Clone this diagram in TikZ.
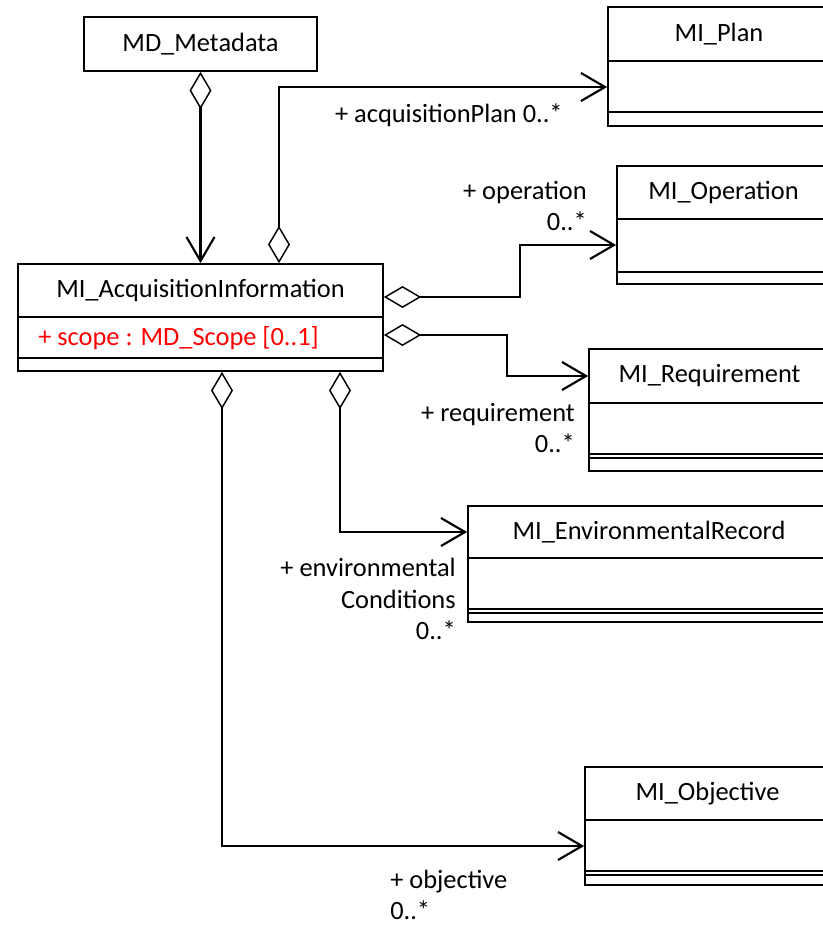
\documentclass[tikz,border=0pt]{standalone}
\usepackage{fontspec}
\setmainfont{Carlito}
\usetikzlibrary{arrows.meta, positioning, fit}
\newcommand{\umlfont}{\fontsize{19.8pt}{23.5pt}\selectfont}
\tikzset{
  classbox/.style = {rectangle, draw=black, line width=1.3pt, inner sep=0pt},
  classname/.style = {font=\umlfont, text=black, inner sep=0pt},
  divider/.style = {draw=black, line width=1.3pt},
  attrib/.style = {font=\umlfont, text=red, inner sep=0pt, anchor=west},
  rolelabel/.style = {font=\umlfont, inner sep=0pt, align=right, anchor=east},
  aggr/.style = {draw=black, line width=1.6pt,
    arrows={Diamond[length=28pt, width=16.5pt, fill=white, line width=1.1pt]-Straight Barb[length=18pt, width=21pt]}}
}

\begin{document}
\begin{tikzpicture}[x=0.75pt, y=-0.75pt]
  \useasboundingbox (0,0) rectangle (823,926);
  \clip (0,0) rectangle (823,926);

  % Classes
  \node (meta) [classbox, fit={(84,17) (317,71)}] {};
  \node (metatitle) [classname] at (meta.center) {MD\_Metadata};

  \node (acq) [classbox, fit={(18,264) (383,371)}] {};
  \node (acqtitle) [classname] at (acq.north |- 0,290.5) {MI\_AcquisitionInformation};
  \node (acqattr) [attrib] at (38,338) {+ scope : MD\_Scope [0..1]};

  \node (plan) [classbox, fit={(608,7) (830,126)}] {};
  \node (plantitle) [classname] at (plan.north |- 0,34) {MI\_Plan};

  \node (op) [classbox, fit={(617,166) (830,284)}] {};
  \node (optitle) [classname] at (op.north |- 0,192.5) {MI\_Operation};

  \node (req) [classbox, fit={(589,349) (830,471)}] {};
  \node (reqtitle) [classname] at (req.north |- 0,376) {MI\_Requirement};

  \node (env) [classbox, fit={(468,506) (830,622)}] {};
  \node (envtitle) [classname] at (env.north |- 0,532) {MI\_EnvironmentalRecord};

  \node (obj) [classbox, fit={(585,767) (830,885)}] {};
  \node (objtitle) [classname] at (obj.north |- 0,793.5) {MI\_Objective};

  % Compartments
  \foreach \n/\y in {acq/317, acq/358, plan/61, plan/112, op/219, op/272,
                     req/403, req/454, req/458, env/558, env/609, env/613,
                     obj/820, obj/871, obj/875}
    \draw[divider] (\n.west |- 0,\y) -- (\n.east |- 0,\y);

  % Associations
  \draw[aggr] (meta) -- (acq);
  \draw[aggr] (acq.north -| 279,0) |- (plan.west |- 0,87);
  \draw[aggr] (acq.east |- 0,297) -- ++(136,0) |- (op.west |- 0,245);
  \draw[aggr] (acq.east |- 0,335) -- ++(123,0) |- (req.west |- 0,376);
  \draw[aggr] (acq.south -| 340,0) |- (env.west |- 0,532);
  \draw[aggr] (acq.south -| 222,0) |- (obj.west |- 0,846);

  % Role names
  \node (planrole) [rolelabel] at (563,115) {+ acquisitionPlan 0..*};
  \node (oprole) [rolelabel] at (587,206) {+ operation\\0..*};
  \node (reqrole) [rolelabel] at (575,428) {+ requirement\\0..*};
  \node (envrole) [rolelabel] at (456,599) {+ environmental\\Conditions\\0..*};
  \node (objrole) [rolelabel, align=left, anchor=west] at (390,895) {+ objective\\0..*};
\end{tikzpicture}
\end{document}
